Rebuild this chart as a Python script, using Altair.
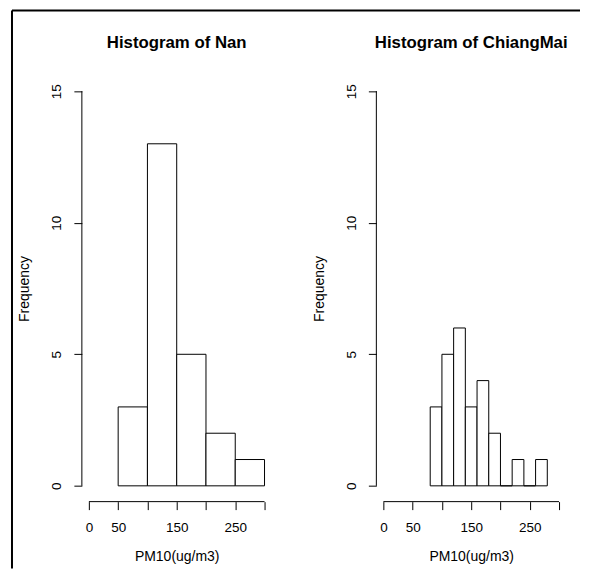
import altair as alt
import pandas as pd

# ---- data ----
nan_bin_start = [50, 100, 150, 200, 250]
nan_bin_end = [100, 150, 200, 250, 300]
nan_counts = [3, 13, 5, 2, 1]

cm_bin_start = [80, 100, 120, 140, 160, 180, 200, 220, 240, 260]
cm_bin_end = [100, 120, 140, 160, 180, 200, 220, 240, 260, 280]
cm_counts = [3, 5, 6, 3, 4, 2, 0, 1, 0, 1]

x_ticks = [0, 50, 100, 150, 200, 250, 300]
x_labels_shown = [0, 50, 150, 250]
y_ticks = [0, 5, 10, 15]

titles = ["Histogram of Nan", "Histogram of ChiangMai"]
x_title = "PM10(ug/m3)"
y_title = "Frequency"

# ---- style ----
W, H = 190, 427
FONT = "Liberation Sans"
LAB = 13.5
AX = 14

x_scale = alt.Scale(domain=[-12, 312], nice=False, zero=False)
y_scale = alt.Scale(domain=[-0.6, 15.6], nice=False, zero=False)

shown = ",".join(str(v) for v in x_labels_shown)
x_axis = alt.Axis(
    values=x_ticks, title=x_title, domain=False, grid=False,
    tickSize=8, tickColor="black", tickWidth=1,
    labelExpr=f"indexof([{shown}], datum.value) >= 0 ? datum.label : ''",
    labelFlush=False, labelOverlap=False, labelBaseline="alphabetic",
    labelAlign="center", labelPadding=22, labelFont=FONT, labelFontSize=LAB,
    labelColor="black",
    titleFont=FONT, titleFontSize=AX, titleFontWeight="normal", titleColor="black",
    titleX=W / 2, titleY=58.5, titleBaseline="alphabetic", titleAlign="center",
)
y_axis = alt.Axis(
    values=y_ticks, title=y_title, domain=False, grid=False,
    tickSize=8, tickColor="black", tickWidth=1,
    labelAngle=270, labelAlign="center", labelBaseline="alphabetic",
    labelPadding=13, labelFlush=False, labelOverlap=False,
    labelFont=FONT, labelFontSize=LAB, labelColor="black",
    titleFont=FONT, titleFontSize=AX, titleFontWeight="normal", titleColor="black",
    titleAngle=270, titleX=-53, titleY=H / 2, titleBaseline="alphabetic",
    titleAlign="center",
)


def panel(start, end, counts, title, frame=False):
    df = pd.DataFrame({"start": start, "end": end, "count": counts})
    bars = alt.Chart(df).mark_rect(fill="white", stroke="black", strokeWidth=1).encode(
        x=alt.X("start:Q", scale=x_scale, axis=x_axis),
        x2="end:Q",
        y=alt.Y("count:Q", scale=y_scale, axis=y_axis),
        y2=alt.datum(0),
    )
    ax_df = pd.DataFrame({"xlo": [x_ticks[0]], "xhi": [x_ticks[-1]],
                          "ylo": [y_ticks[0]], "yhi": [y_ticks[-1]]})
    y_line = alt.Chart(ax_df).mark_rule(color="black", strokeWidth=1).encode(
        x=alt.value(0),
        y=alt.Y("ylo:Q", scale=y_scale, axis=y_axis),
        y2="yhi:Q",
    )
    x_line = alt.Chart(ax_df).mark_rule(color="black", strokeWidth=1).encode(
        y=alt.value(H),
        x=alt.X("xlo:Q", scale=x_scale, axis=x_axis),
        x2="xhi:Q",
    )
    ttl = alt.Chart(pd.DataFrame({"t": [title]})).mark_text(
        font=FONT, fontSize=16.8, fontWeight="bold", color="black",
        align="center", baseline="alphabetic",
    ).encode(text="t:N", x=alt.value(W / 2), y=alt.value(-27))
    layers = [bars, y_line, x_line, ttl]
    if frame:
        one = pd.DataFrame({"k": [0]})
        fv = alt.Chart(one).mark_rule(color="black", strokeWidth=2).encode(
            x=alt.value(-70), y=alt.value(-65), y2=alt.value(494))
        fh = alt.Chart(one).mark_rule(color="black", strokeWidth=2).encode(
            y=alt.value(-65), x=alt.value(-70), x2=alt.value(499))
        layers += [fv, fh]
    return alt.layer(*layers).properties(width=W, height=H)


left = panel(nan_bin_start, nan_bin_end, nan_counts, titles[0], frame=True)
right = panel(cm_bin_start, cm_bin_end, cm_counts, titles[1])

chart = alt.hconcat(left, right, spacing=105, bounds="flush").properties(
    padding={"left": 2, "top": 0, "right": 0, "bottom": 0},
    background="white",
).configure_view(stroke="transparent")

chart.save("out.html", embed_options={"renderer": "svg", "actions": False})
